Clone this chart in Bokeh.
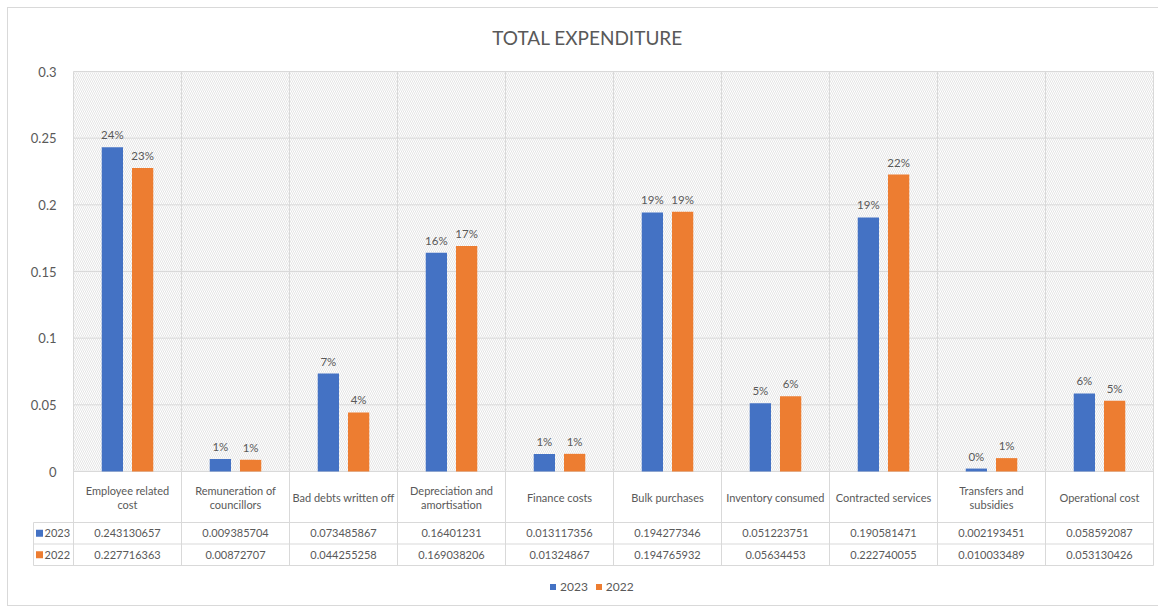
import numpy as np
from bokeh.plotting import figure
from bokeh.models import (Range1d, FixedTicker, BoxAnnotation, CustomJSTickFormatter,
                          ColumnDataSource, Legend, LegendItem, Label)
from bokeh.layouts import column
from bokeh.core.properties import value
from bokeh.embed import file_html
from bokeh.resources import INLINE

# ---------------- data ----------------
categories = ["Employee related\ncost", "Remuneration of\ncouncillors", "Bad debts written off",
              "Depreciation and\namortisation", "Finance costs", "Bulk purchases",
              "Inventory consumed", "Contracted services", "Transfers and\nsubsidies",
              "Operational cost"]
series_names = ["2023", "2022"]
values_2023 = [0.243130657, 0.009385704, 0.073485867, 0.16401231, 0.013117356,
               0.194277346, 0.051223751, 0.190581471, 0.002193451, 0.058592087]
values_2022 = [0.227716363, 0.00872707, 0.044255258, 0.169038206, 0.01324867,
               0.194765932, 0.05634453, 0.222740055, 0.010033489, 0.053130426]
y_ticks = [0, 0.05, 0.1, 0.15, 0.2, 0.25, 0.3]
title_text = "TOTAL EXPENDITURE"

# ---------------- style / layout constants ----------------
FONT = "Lato"
GREY = "#595959"
GRID = "#d9d9d9"
BLUE = "#4472C4"
ORANGE = "#ED7D31"
colors = [BLUE, ORANGE]

n = len(categories)
YMAX = 0.3
PX = YMAX / 400.0            # data units per pixel (y)
UX = 1 / 108.0               # data units per pixel (x)
centers = np.arange(n) + 0.5
offset = 0.14
bar_w = 0.197
series = [values_2023, values_2022]

# table geometry (pixels below the zero line)
row_edges_px = [51, 72.5, 94]          # bottoms of: category row, 2023 row, 2022 row
cat_row_mid_px = 25.5
val_row_mid_px = [61.75, 83.25]
line_gap_px = 14
key_left = -41 * UX
top_px = 463                           # frame extends this many px above the zero line
title_px = 434                         # title centre above the zero line

p = figure(width=1150, height=597,
           x_range=Range1d(key_left, n + UX), y_range=Range1d(-133 * PX, top_px * PX),
           x_axis_location=None, output_backend="svg", toolbar_location=None,
           min_border_left=24, min_border_right=4, min_border_top=0, min_border_bottom=1)
p.outline_line_color = None
p.background_fill_color = "white"
p.border_fill_color = "white"
p.xgrid.visible = False
p.ygrid.visible = False

# title
title = Label(x=(587 - 73) * UX, y=title_px * PX, text=title_text,
              text_align="center", text_baseline="middle", text_font=FONT,
              text_font_size="19px", text_color=GREY)
p.add_layout(title)

# hatched plot area
hatch = BoxAnnotation(left=0, right=n, bottom=0, top=YMAX, fill_alpha=0, line_alpha=0,
                      hatch_pattern="\\", hatch_color="#d2d2d2", hatch_scale=4,
                      hatch_weight=0.6, level="underlay")
p.add_layout(hatch)

# y axis
yax = p.yaxis[0]
yax.ticker = FixedTicker(ticks=y_ticks)
yax.formatter = CustomJSTickFormatter(code="return tick.toString();")
yax.axis_line_color = None
yax.major_tick_line_color = None
yax.minor_tick_line_color = None
yax.major_label_text_font = FONT
yax.major_label_text_font_size = "13px"
yax.major_label_text_color = GREY
yax.major_label_standoff = -30

# grid lines (horizontal at ticks, vertical at category boundaries through the table)
p.segment(x0=[0] * len(y_ticks), x1=[n] * len(y_ticks), y0=y_ticks, y1=y_ticks,
          line_color=GRID, line_width=1)
table_bottom = -row_edges_px[-1] * PX
vx = list(range(n + 1))
p.segment(x0=vx, x1=vx, y0=[table_bottom] * len(vx), y1=[YMAX] * len(vx),
          line_color=GRID, line_width=1)
row_lines = [-r * PX for r in row_edges_px]
p.segment(x0=[key_left + UX] * 3, x1=[n] * 3, y0=row_lines, y1=row_lines,
          line_color=GRID, line_width=1)
p.segment(x0=[key_left + UX], x1=[key_left + UX], y0=[table_bottom], y1=[row_lines[0]],
          line_color=GRID, line_width=1)

# bars + percentage labels
for k, (vals, col) in enumerate(zip(series, colors)):
    xs = centers + (2 * k - 1) * offset
    src = ColumnDataSource(dict(x=xs, top=vals,
                                lbl=[f"{round(v * 100)}%" for v in vals]))
    p.vbar(x="x", top="top", width=bar_w, source=src, fill_color=col, line_color=None)
    p.text(x="x", y="top", text="lbl", source=src, text_align="center",
           text_baseline="bottom", y_offset=-6, text_font=value(FONT),
           text_font_size="11.5px", text_color=GREY)

# category labels (first table row), split into lines
lx, ly, lt = [], [], []
for i, c in enumerate(categories):
    lines = c.split("\n")
    m = len(lines)
    for j, t in enumerate(lines):
        lx.append(centers[i])
        ly.append(-(cat_row_mid_px + (j - (m - 1) / 2) * line_gap_px) * PX)
        lt.append(t)
p.text(x=lx, y=ly, text=lt, text_align="center", text_baseline="middle",
       text_font=value(FONT), text_font_size="11px", text_color=GREY)

# value rows + key column
key_renderers = []
for k, (vals, col, name) in enumerate(zip(series, colors, series_names)):
    yk = -val_row_mid_px[k] * PX
    p.text(x=centers, y=[yk] * n, text=[repr(v) for v in vals], text_align="center",
           text_baseline="middle", text_font=value(FONT), text_font_size="11px",
           text_color=GREY)
    r = p.scatter(x=[key_left + 7 * UX], y=[yk], marker="square", size=7, fill_color=col,
                  line_color=None)
    key_renderers.append(r)
    p.text(x=[key_left + 12 * UX], y=[yk], text=[name], text_align="left",
           text_baseline="middle", text_font=value(FONT), text_font_size="11px",
           text_color=GREY)

legend = Legend(items=[LegendItem(label=nm, renderers=[r])
                       for nm, r in zip(series_names, key_renderers)],
                orientation="horizontal", location=(513, 10), border_line_color=None,
                background_fill_alpha=0, label_text_font=FONT, label_text_font_size="12px",
                label_text_color=GREY, glyph_width=15, glyph_height=15, spacing=3,
                label_standoff=0, padding=0, margin=0)
p.add_layout(legend)

layout = column(p, margin=(8, 0, 0, 8), styles={"outline": "1px solid #d9d9d9"})

open("out.html", "w").write(file_html(layout, INLINE))
